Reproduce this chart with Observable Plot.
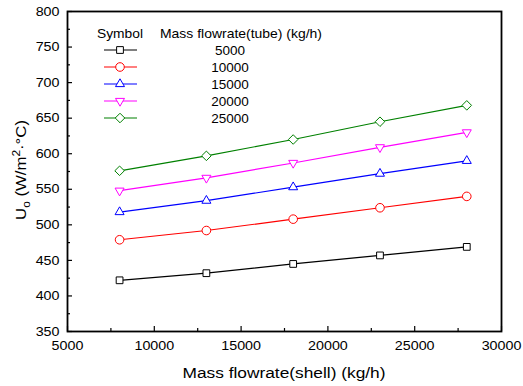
<!DOCTYPE html>
<html><head><meta charset="utf-8">
<script src="https://cdn.jsdelivr.net/npm/d3@7"></script>
<script src="https://cdn.jsdelivr.net/npm/@observablehq/plot@0.6"></script>
<style>
html,body{margin:0;padding:0;background:#fff;}
#chart{width:523px;height:386px;}
svg{font-family:"Liberation Sans",Arial,sans-serif;}
</style></head>
<body><div id="chart"></div>
<script>
const shellFlow = [8000, 13000, 18000, 23000, 28000];
const tubeFlows = ["5000", "10000", "15000", "20000", "25000"];
const u5000  = [422, 432, 445, 457, 469];
const u10000 = [479, 492, 508, 524, 540];
const u15000 = [518, 534, 553, 572, 590];
const u20000 = [548, 566, 587, 609, 630];
const u25000 = [576, 597, 620, 645, 668];
const seriesValues = [u5000, u10000, u15000, u20000, u25000];
const colors = ["#000000", "#ff0000", "#0000ff", "#ff00ff", "#008000"];
const xTicks = [5000, 10000, 15000, 20000, 25000, 30000];
const yTicks = [350, 400, 450, 500, 550, 600, 650, 700, 750, 800];
const xMinor = d3.range(7500, 30000, 5000);
const yMinor = d3.range(375, 800, 50);

const triangleDown = {
  draw(ctx, size) {
    const s = Math.sqrt(size) * 0.6824, t = s / 2, u = s * Math.sqrt(3) / 2;
    ctx.moveTo(0, s); ctx.lineTo(u, -t); ctx.lineTo(-u, -t); ctx.closePath();
  }
};
const symbols = [d3.symbolSquare2, d3.symbolCircle, d3.symbolTriangle2, triangleDown, d3.symbolDiamond2];

const rows = [];
tubeFlows.forEach((t, i) => shellFlow.forEach((x, j) => rows.push({tube: t, x, u: seriesValues[i][j]})));

const marks = [];
tubeFlows.forEach((t, i) => {
  const d = rows.filter(r => r.tube === t);
  marks.push(Plot.line(d, {x: "x", y: "u", stroke: colors[i], strokeWidth: 1.2}));
  marks.push(Plot.dot(d, {x: "x", y: "u", stroke: colors[i], fill: "white", r: 4.3, strokeWidth: 1, symbol: symbols[i]}));
});

const plot = Plot.plot({
  width: 523, height: 386,
  marginLeft: 67, marginRight: 22, marginTop: 11, marginBottom: 55,
  style: {fontFamily: '"Liberation Sans", Arial, sans-serif', fontSize: "13px", color: "#000", background: "white"},
  x: {domain: [5000, 30000]},
  y: {domain: [350, 800]},
  marks: [
    Plot.axisX({ticks: xMinor, tickSize: -3, text: null, label: null, strokeWidth: 1.2}),
    Plot.axisX({ticks: xTicks, tickSize: -5, text: null, label: null, strokeWidth: 1.2}),
    Plot.axisX({ticks: xTicks, tickSize: 0, tickPadding: 9, tickFormat: d => String(d), label: null, fontSize: 13}),
    Plot.axisY({ticks: yMinor, tickSize: -3, text: null, label: null, strokeWidth: 1.2}),
    Plot.axisY({ticks: yTicks, tickSize: -5, text: null, label: null, strokeWidth: 1.2}),
    Plot.axisY({ticks: yTicks, tickSize: 0, tickPadding: 8, tickFormat: d => String(d), label: null, fontSize: 13}),
    ...marks,
    Plot.frame({stroke: "#000", strokeWidth: 1.8})
  ]
});
document.getElementById("chart").appendChild(plot);

const svg = d3.select(plot);
// widen tick labels slightly, as in the reference's font
svg.selectAll("g[aria-label='x-axis tick label'] text, g[aria-label='y-axis tick label'] text").each(function() {
  const tr = this.getAttribute("transform") || "";
  this.setAttribute("transform", tr + " scale(1.1,1)");
});
// axis titles
svg.append("text").attr("x", 284).attr("y", 378).attr("text-anchor", "middle")
  .attr("font-size", 15.5).attr("fill", "#000")
  .attr("textLength", 203).attr("lengthAdjust", "spacingAndGlyphs")
  .text("Mass flowrate(shell) (kg/h)");
const yl = svg.append("text").attr("transform", "translate(26,170) rotate(-90)").attr("text-anchor", "middle")
  .attr("font-size", 15.5).attr("fill", "#000")
  .attr("textLength", 100).attr("lengthAdjust", "spacingAndGlyphs");
yl.append("tspan").text("U");
yl.append("tspan").attr("font-size", 11).attr("dy", 4).text("o");
yl.append("tspan").attr("dy", -4).text(" (W/m");
yl.append("tspan").attr("font-size", 11).attr("dy", -6).text("2");
yl.append("tspan").attr("dy", 6).text("·°C)");

// legend
const lg = svg.append("g").attr("font-size", 13.5).attr("fill", "#000").attr("text-anchor", "start");
lg.append("text").attr("x", 97).attr("y", 38).attr("textLength", 46).attr("lengthAdjust", "spacingAndGlyphs").text("Symbol");
lg.append("text").attr("x", 160).attr("y", 38).attr("textLength", 162).attr("lengthAdjust", "spacingAndGlyphs").text("Mass flowrate(tube) (kg/h)");
tubeFlows.forEach((t, i) => {
  const cy = 50 + i * 17;
  lg.append("line").attr("x1", 104).attr("x2", 137).attr("y1", cy).attr("y2", cy)
    .attr("stroke", colors[i]).attr("stroke-width", 1.2);
  lg.append("path").attr("transform", `translate(120,${cy})`)
    .attr("d", d3.symbol(symbols[i], Math.PI * 4.3 * 4.3)())
    .attr("fill", "white").attr("stroke", colors[i]).attr("stroke-width", 1);
  lg.append("text").attr("x", 230).attr("y", cy + 5).attr("text-anchor", "middle").text(t);
});
</script></body></html>
